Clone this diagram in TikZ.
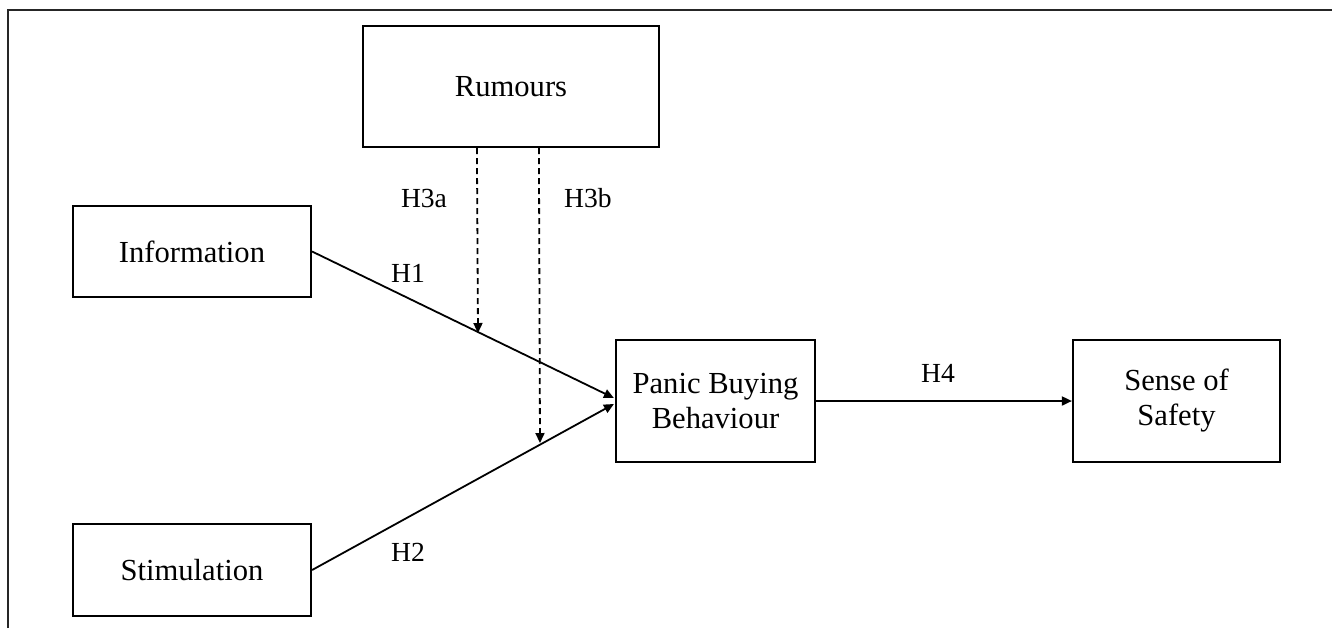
\documentclass[tikz,border=0pt]{standalone}
\usepackage{fontspec}
\setmainfont{Liberation Serif}
\usetikzlibrary{arrows.meta,calc}
\begin{document}
\begin{tikzpicture}[x=0.5pt,y=-0.5pt,
  box/.style={draw,line width=1.1pt,inner sep=0pt,align=center,
    font=\fontsize{15.3}{17.5}\selectfont},
  conn/.style={line width=0.9pt,-{Triangle[length=5pt,width=4.5pt]}},
  dconn/.style={conn,dash pattern=on 3pt off 2pt},
  lbl/.style={font=\fontsize{13.8}{16}\selectfont,inner sep=0pt}]
\useasboundingbox (0,0) rectangle (1332,628);
\draw[line width=1.1pt,black!85] (8,628) -- (8,10) -- (1332,10);
% boxes
\node[box,minimum width=148pt,minimum height=60.5pt] (rum) at (511,86.5) {Rumours};
\node[box,minimum width=119pt,minimum height=45.5pt] (info) at (192,251.5) {Information};
\node[box,minimum width=119pt,minimum height=46pt] (stim) at (192,570) {Stimulation};
\node[box,minimum width=99.5pt,minimum height=61pt] (pb) at (715.5,401) {Panic Buying\\Behaviour};
\node[box,minimum width=103.5pt,minimum height=61pt] (ss) at (1176.5,401) {Sense of\\Safety};
% moderation points
\coordinate (m1) at (478,333);
\coordinate (m2) at (540,443);
% connectors
\draw[conn] (info.east) -- ($(pb.west)+(-1,-3)$);
\draw[conn] (stim.east) -- ($(pb.west)+(-1,3)$);
\draw[conn] (pb.east) -- (ss.west);
\draw[dconn] ($(rum.south west)+(115,0)$) -- (m1);
\draw[dconn] ($(rum.south west)+(177,0)$) -- (m2);
% labels
\node[lbl] (h3a) at (424,198) {H3a};
\node[lbl] (h3b) at (588,198) {H3b};
\node[lbl] (h1) at (408,273) {H1};
\node[lbl] (h2) at (408,552) {H2};
\node[lbl] (h4) at (938,373) {H4};
\end{tikzpicture}
\end{document}
